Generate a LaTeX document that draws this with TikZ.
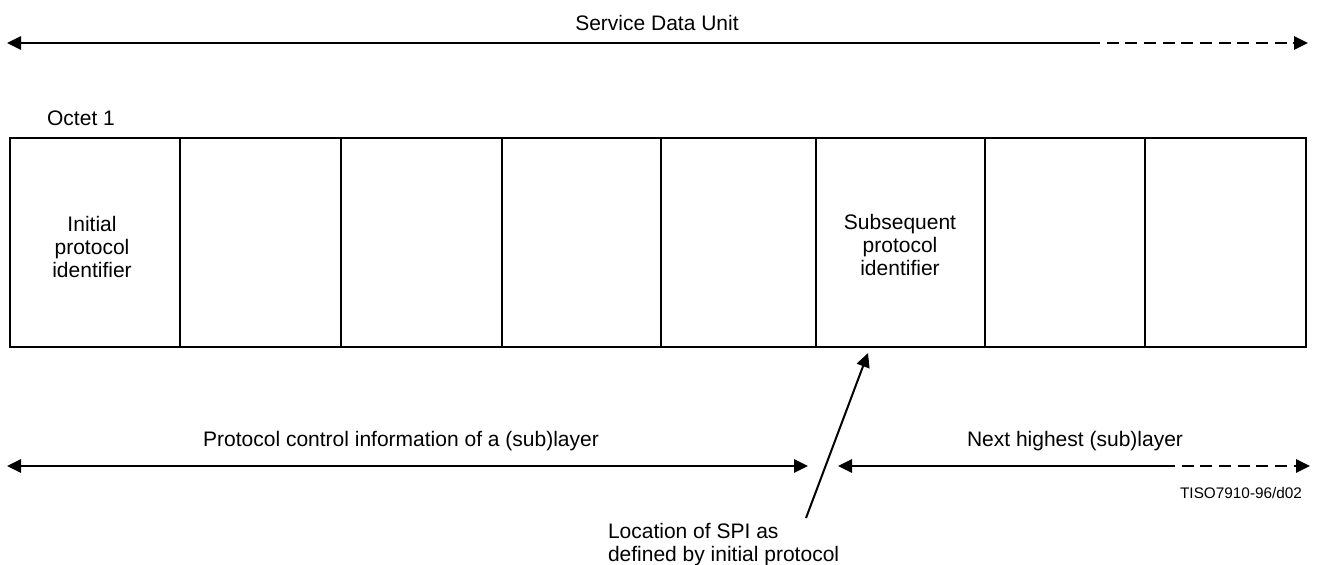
\documentclass[tikz,border=0pt]{standalone}
\usepackage{fontspec}
\setmainfont{Liberation Sans}
\usetikzlibrary{arrows.meta}
\begin{document}
\begin{tikzpicture}[x=0.75pt,y=-0.75pt,line width=1.5pt,
  lbl/.style={font=\fontsize{15.75}{17.6}\selectfont,inner sep=0pt},
  small/.style={font=\fontsize{11.5}{13}\selectfont,inner sep=0pt},
  arr/.style={-{Triangle[length=10.5pt,width=10pt]}},
  dbl/.style={{Triangle[length=10.5pt,width=10pt]}-{Triangle[length=10.5pt,width=10pt]}},
  dsh/.style={dash pattern=on 9pt off 5pt}]
\useasboundingbox (0,0) rectangle (1319,564);
% cells
\draw (10,138) rectangle (1306,347);
\foreach \x in {180,341,502,661,816,985,1145} \draw (\x,138) -- (\x,347);
% texts
\node[lbl,anchor=base] (sdu) at (657,30) {Service Data Unit};
\node[lbl,anchor=base] (octet) at (81,125) {Octet 1};
\node[lbl,align=center] (ipi) at (92,247) {Initial\\protocol\\identifier};
\node[lbl,align=center] (spi) at (900,245) {Subsequent\\protocol\\identifier};
\node[lbl,anchor=base] (pci) at (401,446) {Protocol control information of a (sub)layer};
\node[lbl,anchor=base] (nh) at (1075,446) {Next highest (sub)layer};
\node[lbl,align=left,anchor=north west] (loc) at (607,522) {Location of SPI as\\defined by initial protocol};
\node[small,anchor=base east] (tiso) at (1303,498) {TISO7910-96/d02};
% top arrow
\coordinate (sduL) at (7,43);
\coordinate (sduM) at (1088,43);
\coordinate (sduR) at (1308,43);
\draw[arr] (sduM) -- (sduL);
\draw[arr,dsh] (sduM) -- (sduR);
% bottom arrows
\coordinate (pciL) at (7,466);
\coordinate (pciR) at (808,466);
\draw[dbl] (pciL) -- (pciR);
\coordinate (nhL) at (838,466);
\coordinate (nhM) at (1163,466);
\coordinate (nhR) at (1310,466);
\draw[arr] (nhM) -- (nhL);
\draw[arr,dsh] (nhM) -- (nhR);
% SPI pointer
\coordinate (locS) at (806,518);
\coordinate (locT) at (868,353);
\draw[arr] (locS) -- (locT);
\end{tikzpicture}
\end{document}
